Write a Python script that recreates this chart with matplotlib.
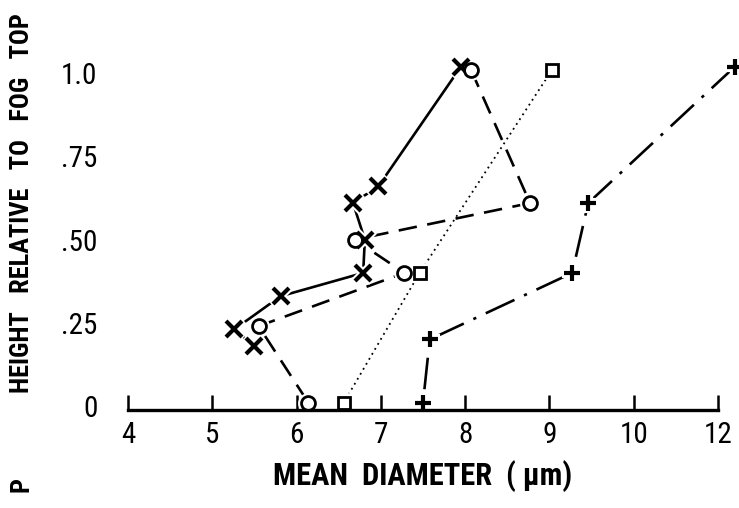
import numpy as np
import matplotlib
matplotlib.use('Agg')
import matplotlib.pyplot as plt

# Data (mean diameter in um, height relative to fog top)
x_cross = [7.95, 6.97, 6.67, 6.81, 6.79, 5.81, 5.26, 5.50]
y_cross = [1.02, 0.66, 0.61, 0.50, 0.40, 0.33, 0.23, 0.18]

x_circle = [8.07, 8.77, 6.69, 7.28, 5.55, 6.14]
y_circle = [1.01, 0.61, 0.50, 0.40, 0.24, 0.01]

x_square = [9.03, 7.46, 6.56]
y_square = [1.01, 0.40, 0.01]

x_plus = [12.4, 9.46, 9.27, 7.58, 7.50]
y_plus = [1.02, 0.61, 0.40, 0.20, 0.01]

xticks = [4, 5, 6, 7, 8, 9, 10, 12]
xtick_labels = ['4', '5', '6', '7', '8', '9', '10', '12']
yticks = [0, 0.25, 0.5, 0.75, 1.0]
ytick_labels = ['0', '.25', '.50', '.75', '1.0']

cond = ['Roboto Condensed', 'DejaVu Sans']


# The original axis squeezes 10..12 into one tick interval
def fwd(x):
    x = np.asarray(x, dtype=float)
    return np.where(x <= 10, x, 10 + (x - 10) / 2)


def inv(t):
    t = np.asarray(t, dtype=float)
    return np.where(t <= 10, t, 10 + 2 * (t - 10))


fig = plt.figure(figsize=(7.39, 5.08), dpi=100)
ax = fig.add_axes([128 / 739, 98 / 508, 590 / 739, 350 / 508])
ax.set_xscale('function', functions=(fwd, inv))
ax.set_xlim(4, 12)
ax.set_ylim(-0.012, 1.04)

# lines
ax.plot(x_cross, y_cross, '-', color='black', lw=1.9, clip_on=False)
ax.plot(x_circle, y_circle, color='black', lw=1.9, dashes=(7, 4), clip_on=False)
ax.plot(x_square, y_square, color='black', lw=1.3, dashes=(1, 2.2), clip_on=False)
ax.plot(x_plus, y_plus, color='black', lw=1.9, dashes=(12, 4, 1.2, 4), clip_on=False)

# white halos so the lines stop short of the markers
halo = dict(linestyle='none', color='white', clip_on=False)
ax.plot(x_cross, y_cross, marker='x', ms=13, mew=6, **halo)
ax.plot(x_circle, y_circle, marker='o', ms=11, mfc='white', mec='white', mew=4, **halo)
ax.plot(x_square, y_square, marker='s', ms=10, mfc='white', mec='white', mew=4, **halo)
ax.plot(x_plus, y_plus, marker='P', ms=12, mec='white', mew=3, **halo)

# markers
ax.plot(x_cross, y_cross, 'x', color='black', ms=11, mew=3.0, clip_on=False)
ax.plot(x_circle, y_circle, 'o', mfc='white', mec='black', ms=10, mew=2.0, clip_on=False)
ax.plot(x_square, y_square, 's', mfc='white', mec='black', ms=9, mew=2.0, clip_on=False)
ax.plot(x_plus, y_plus, '+', color='black', ms=11, mew=3.0, clip_on=False)

for side in ['top', 'right', 'left']:
    ax.spines[side].set_visible(False)
ax.spines['bottom'].set_linewidth(2.4)
ax.spines['bottom'].set_zorder(5)

ax.set_xticks(xticks)
ax.set_xticklabels(xtick_labels, fontfamily=cond, fontsize=21)
ax.xaxis.set_minor_locator(matplotlib.ticker.NullLocator())
ax.tick_params(axis='x', direction='in', length=11, width=1.8, pad=8)
ax.set_yticks(yticks)
ax.set_yticklabels(ytick_labels, fontfamily=cond, fontsize=21)
ax.tick_params(axis='y', length=0, pad=22)

ax.set_xlabel('MEAN  DIAMETER  ( \u03bcm)', fontfamily=cond,
              fontweight='bold', fontsize=22, labelpad=8)
fig.text(22 / 739, 1 - 203 / 508, 'HEIGHT   RELATIVE   TO   FOG   TOP',
         rotation=90, ha='center', va='center', fontfamily=cond,
         fontweight='bold', fontsize=19)
fig.text(22 / 739, 1 - 485 / 508, 'P', rotation=90, ha='center', va='center',
         fontfamily=cond, fontweight='bold', fontsize=19)

fig.savefig('out.png', dpi=100)
